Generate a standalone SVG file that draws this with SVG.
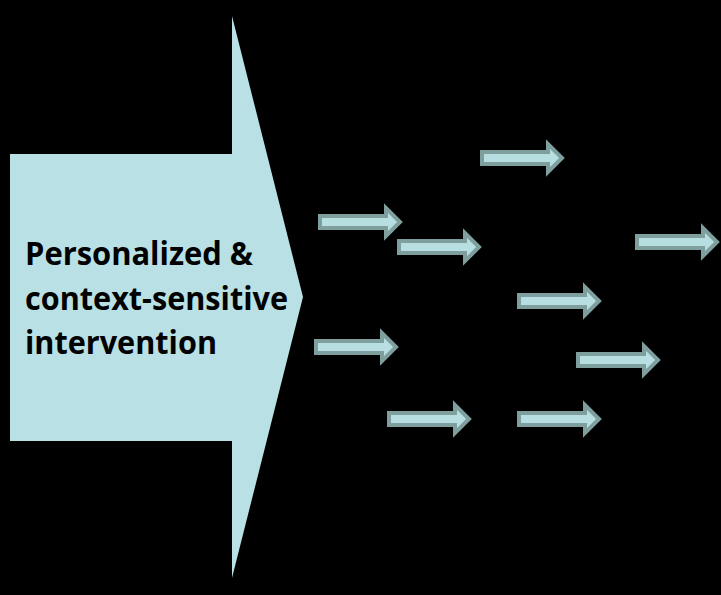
<svg xmlns="http://www.w3.org/2000/svg" xmlns:xlink="http://www.w3.org/1999/xlink" width="721" height="595" viewBox="0 0 721 595">
  <style>
    .main { fill: #b9e0e4; }
    .lbl { font-family: "Open Sans", "Liberation Sans", sans-serif; font-weight: bold; font-size: 32px; fill: #000000; }
    .sa { fill: #b7dfe2; stroke: #7f9e9e; stroke-width: 4; stroke-linejoin: miter; }
  </style>
  <defs>
    <path id="smallArrow" class="sa" d="M2,-6 H68 V-14 L82,0 L68,14 V6 H2 Z"/>
  </defs>
  <rect x="0" y="0" width="721" height="595" fill="#000000"/>
  <g id="intervention">
    <path class="main" d="M10,154 H232 V16 L303,297 L232,578 V441 H10 Z"/>
    <text class="lbl" x="25" y="265" textLength="228" lengthAdjust="spacingAndGlyphs">Personalized &amp;</text>
    <text class="lbl" x="25" y="310" textLength="263" lengthAdjust="spacingAndGlyphs">context-sensitive</text>
    <text class="lbl" x="25" y="354" textLength="192" lengthAdjust="spacingAndGlyphs">intervention</text>
  </g>
  <g id="connectors">
    <use xlink:href="#smallArrow" transform="translate(318,222)"/>
    <use xlink:href="#smallArrow" transform="translate(397,247)"/>
    <use xlink:href="#smallArrow" transform="translate(480,158)"/>
    <use xlink:href="#smallArrow" transform="translate(635,242)"/>
    <use xlink:href="#smallArrow" transform="translate(517,301)"/>
    <use xlink:href="#smallArrow" transform="translate(314,347)"/>
    <use xlink:href="#smallArrow" transform="translate(576,360)"/>
    <use xlink:href="#smallArrow" transform="translate(387,419)"/>
    <use xlink:href="#smallArrow" transform="translate(517,419)"/>
  </g>
</svg>
